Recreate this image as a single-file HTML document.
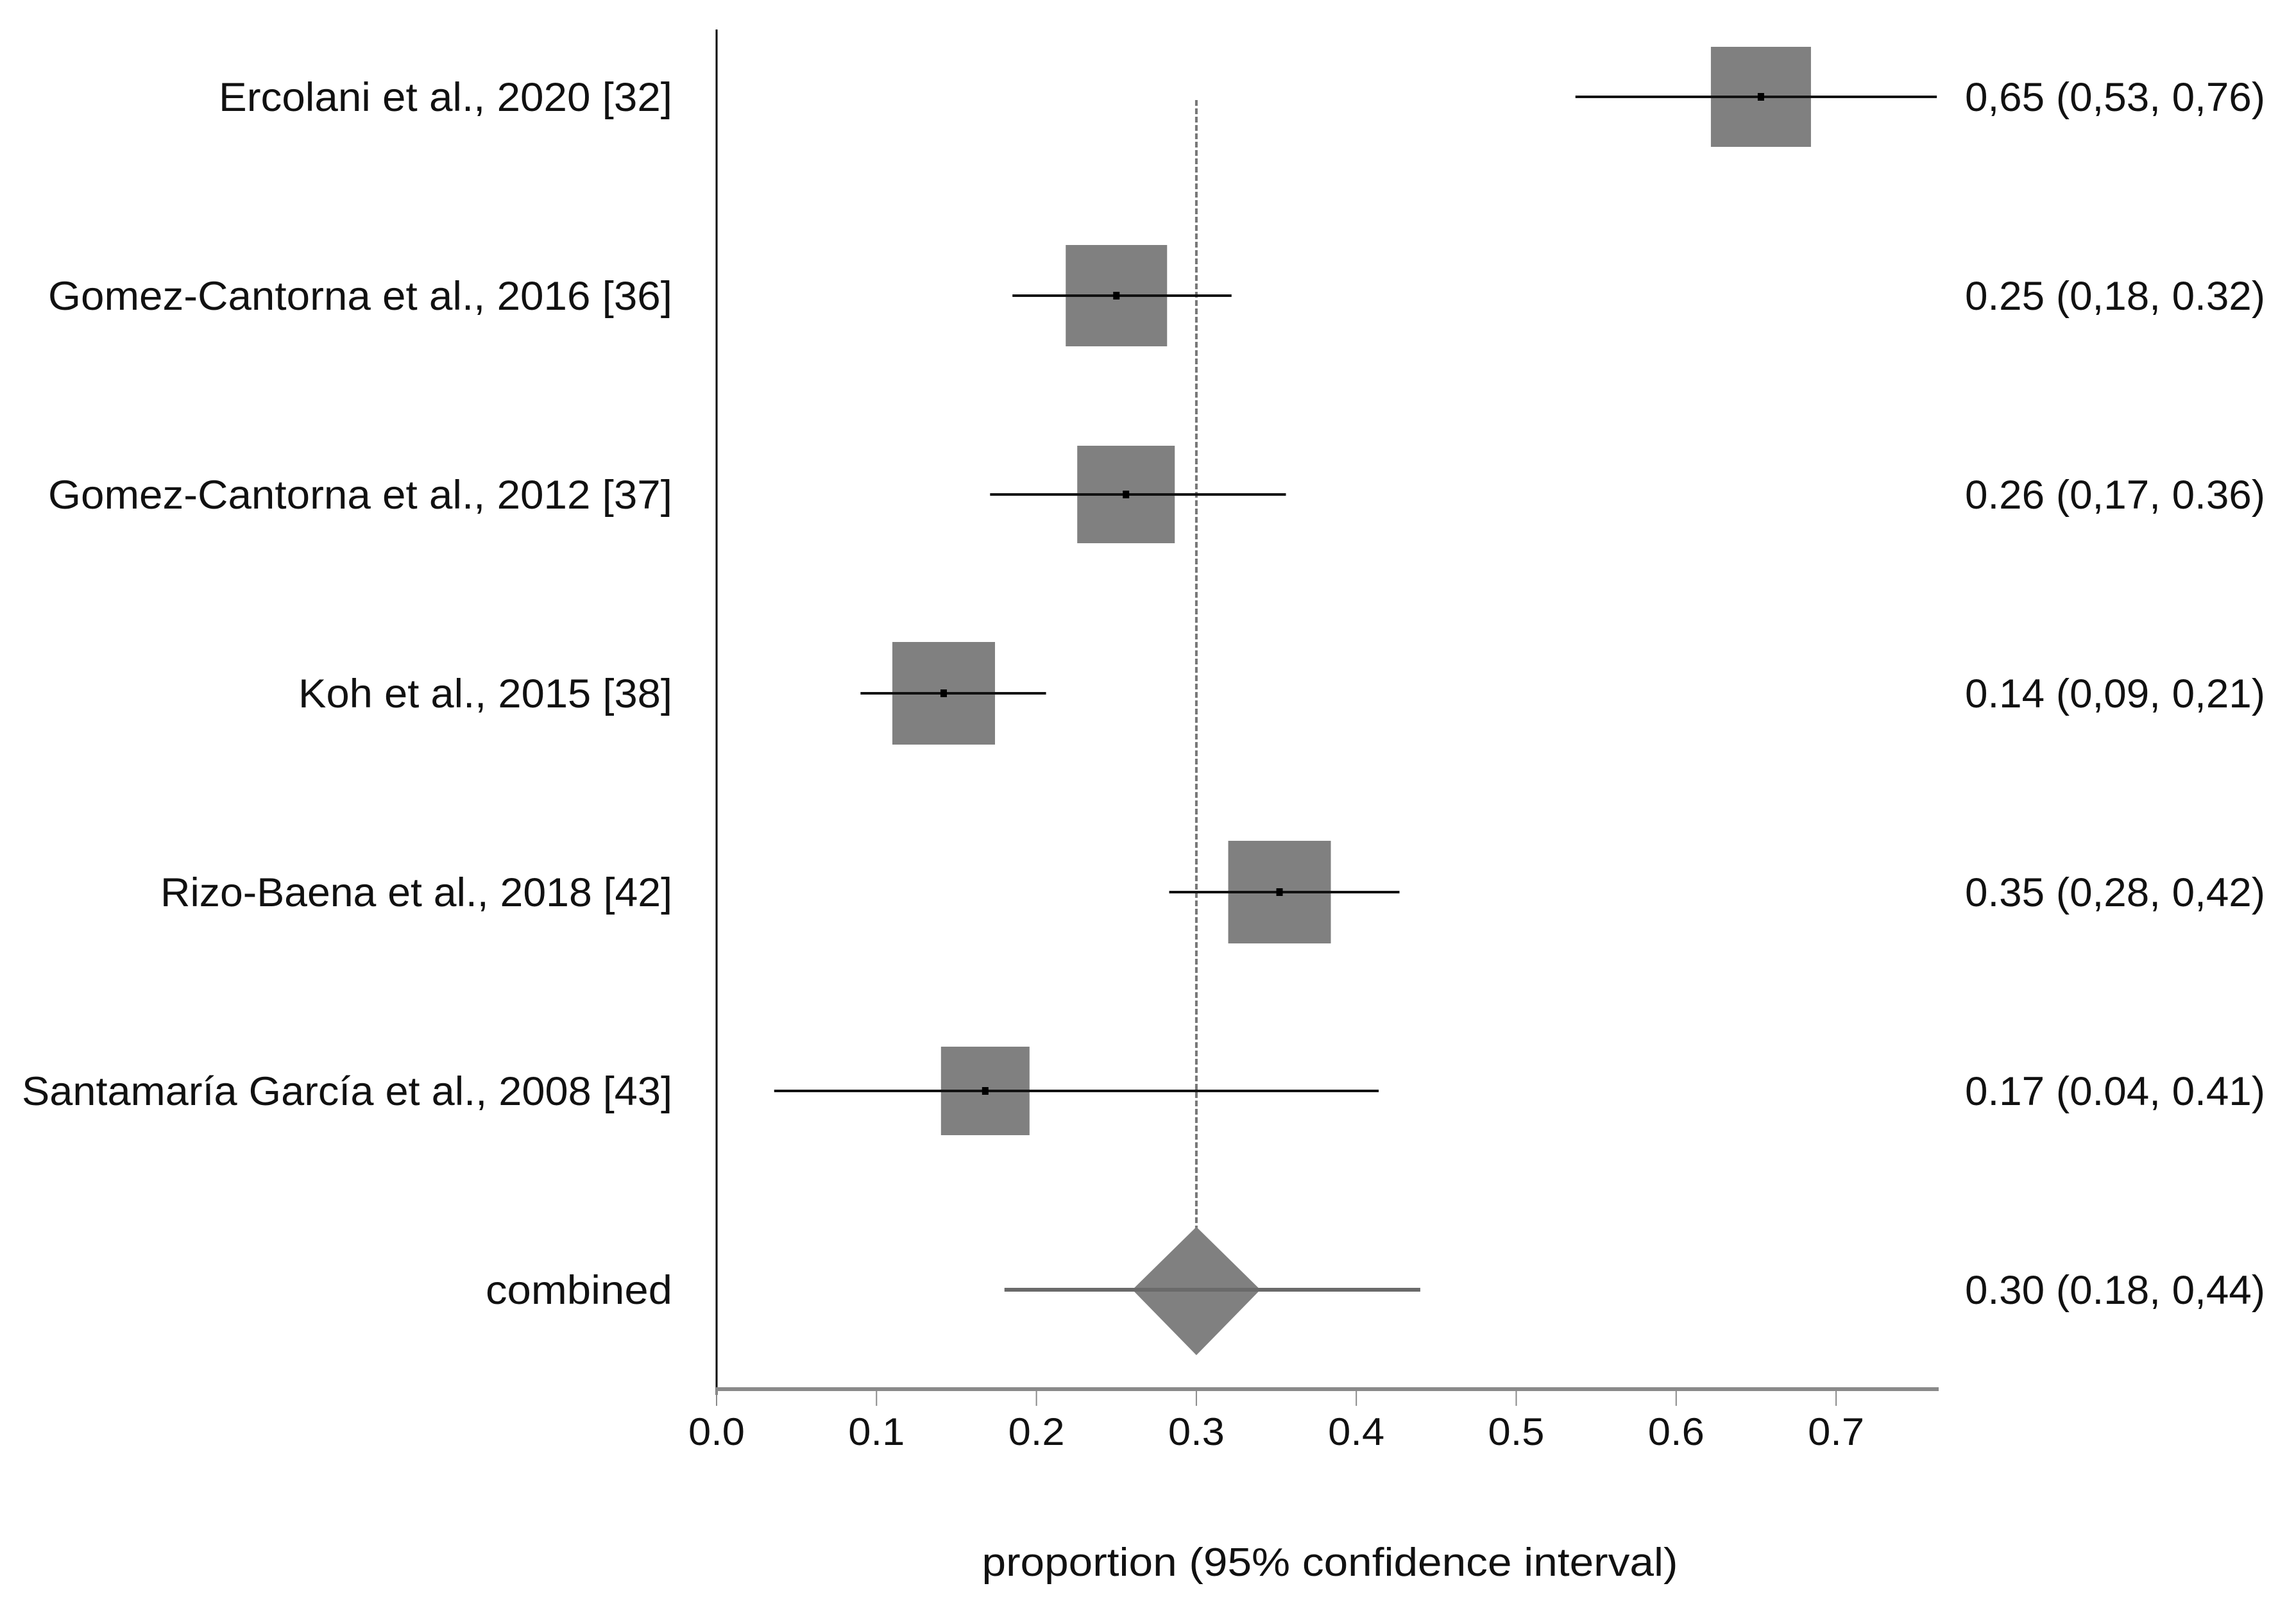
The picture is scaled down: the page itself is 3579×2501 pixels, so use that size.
<!DOCTYPE html>
<html><head><meta charset="utf-8"><style>
html,body{margin:0;padding:0;background:#fff;}
svg{display:block;}
text{font-family:"Liberation Sans Narrow","Liberation Sans",sans-serif;fill:#111;}
</style></head><body>
<svg id="chart" width="3579" height="2501" viewBox="0 0 3579 2501" xmlns="http://www.w3.org/2000/svg"></svg>
<script>
const studies = ["Ercolani et al., 2020 [32]","Gomez-Cantorna et al., 2016 [36]","Gomez-Cantorna et al., 2012 [37]","Koh et al., 2015 [38]","Rizo-Baena et al., 2018 [42]","Santamaría García et al., 2008 [43]"];
const est = [0.653, 0.25, 0.256, 0.142, 0.352, 0.168];
const lo = [0.537, 0.185, 0.171, 0.090, 0.283, 0.036];
const hi = [0.763, 0.322, 0.356, 0.206, 0.427, 0.414];
const weights = [156, 158, 152, 160, 160, 138];
const valueLabels = ["0,65 (0,53, 0,76)","0.25 (0,18, 0.32)","0.26 (0,17, 0.36)","0.14 (0,09, 0,21)","0.35 (0,28, 0,42)","0.17 (0.04, 0.41)"];
const studyLabelWidths = [707, 973, 973, 583, 798, 1014];
const combinedEst = 0.30, combinedLo = 0.18, combinedHi = 0.44, combinedHalf = 0.04;
const combinedLabel = "0.30 (0.18, 0,44)";
const ticks = [0,0.1,0.2,0.3,0.4,0.5,0.6,0.7];
const tickLabels = ["0.0","0.1","0.2","0.3","0.4","0.5","0.6","0.7"];

const svg = document.getElementById('chart');
const NS = "http://www.w3.org/2000/svg";
const X0 = 1117, PX = 2493;
const xs = v => X0 + v * PX;
const ys = i => 151 + i * 310;
function el(tag, attrs, parent){ const e=document.createElementNS(NS,tag); for(const k in attrs) e.setAttribute(k,attrs[k]); (parent||svg).appendChild(e); return e; }

let a = el('line',{x1:1117,y1:46,x2:1117,y2:2175,stroke:'#000','stroke-width':3});


a = el('line',{x1:1117,y1:2166,x2:3022,y2:2166,stroke:'#8a8a8a','stroke-width':6});


ticks.forEach((t,i)=>{
  const tk = el('line',{x1:xs(t),y1:2163,x2:xs(t),y2:2192,stroke:'#8a8a8a','stroke-width':2});
  
  
  const tl = el('text',{x:xs(t),y:2253,'font-size':60,'text-anchor':'middle',textLength:88,lengthAdjust:'spacingAndGlyphs'});
  tl.textContent = tickLabels[i];
  
  
});
const title = el('text',{x:2073,y:2457,'font-size':62,'text-anchor':'middle',textLength:1085,lengthAdjust:'spacingAndGlyphs'});
title.textContent = "proportion (95% confidence interval)";



const ref = el('line',{x1:xs(combinedEst),y1:156,x2:xs(combinedEst),y2:1915,stroke:'#777','stroke-width':4,'stroke-dasharray':'9,4'});



studies.forEach((s,i)=>{
  const y = ys(i), w = weights[i];
  const sq = el('rect',{x:xs(est[i])-w/2,y:y-w/2,width:w,height:w,fill:'#808080'});
  
  
  const ci = el('line',{x1:xs(lo[i]),y1:y,x2:xs(hi[i]),y2:y,stroke:'#111','stroke-width':4});
  
  
  const pt = el('rect',{x:xs(est[i])-5,y:y-6,width:10,height:12,fill:'#000'});
  
  
  const lab = el('text',{x:1048,y:y+22,'font-size':63,'text-anchor':'end',textLength:studyLabelWidths[i],lengthAdjust:'spacingAndGlyphs'});
  lab.textContent = s;
  
  
  const vl = el('text',{x:3063,y:y+22,'font-size':63,textLength:468,lengthAdjust:'spacingAndGlyphs'});
  vl.textContent = valueLabels[i];
  
  
});

const cy = ys(6);
const dm = el('polygon',{points:`${xs(combinedEst)},${cy-98} ${xs(combinedEst+combinedHalf)},${cy} ${xs(combinedEst)},${cy+102} ${xs(combinedEst-combinedHalf)},${cy}`,fill:'#808080'});


const cci = el('line',{x1:xs(combinedLo),y1:cy,x2:xs(combinedHi),y2:cy,stroke:'#6a6a6a','stroke-width':6});


const cl = el('text',{x:1048,y:cy+22,'font-size':63,'text-anchor':'end',textLength:291,lengthAdjust:'spacingAndGlyphs'});
cl.textContent = "combined";


const cv = el('text',{x:3063,y:cy+22,'font-size':63,textLength:468,lengthAdjust:'spacingAndGlyphs'});
cv.textContent = combinedLabel;


</script>
</body></html>
